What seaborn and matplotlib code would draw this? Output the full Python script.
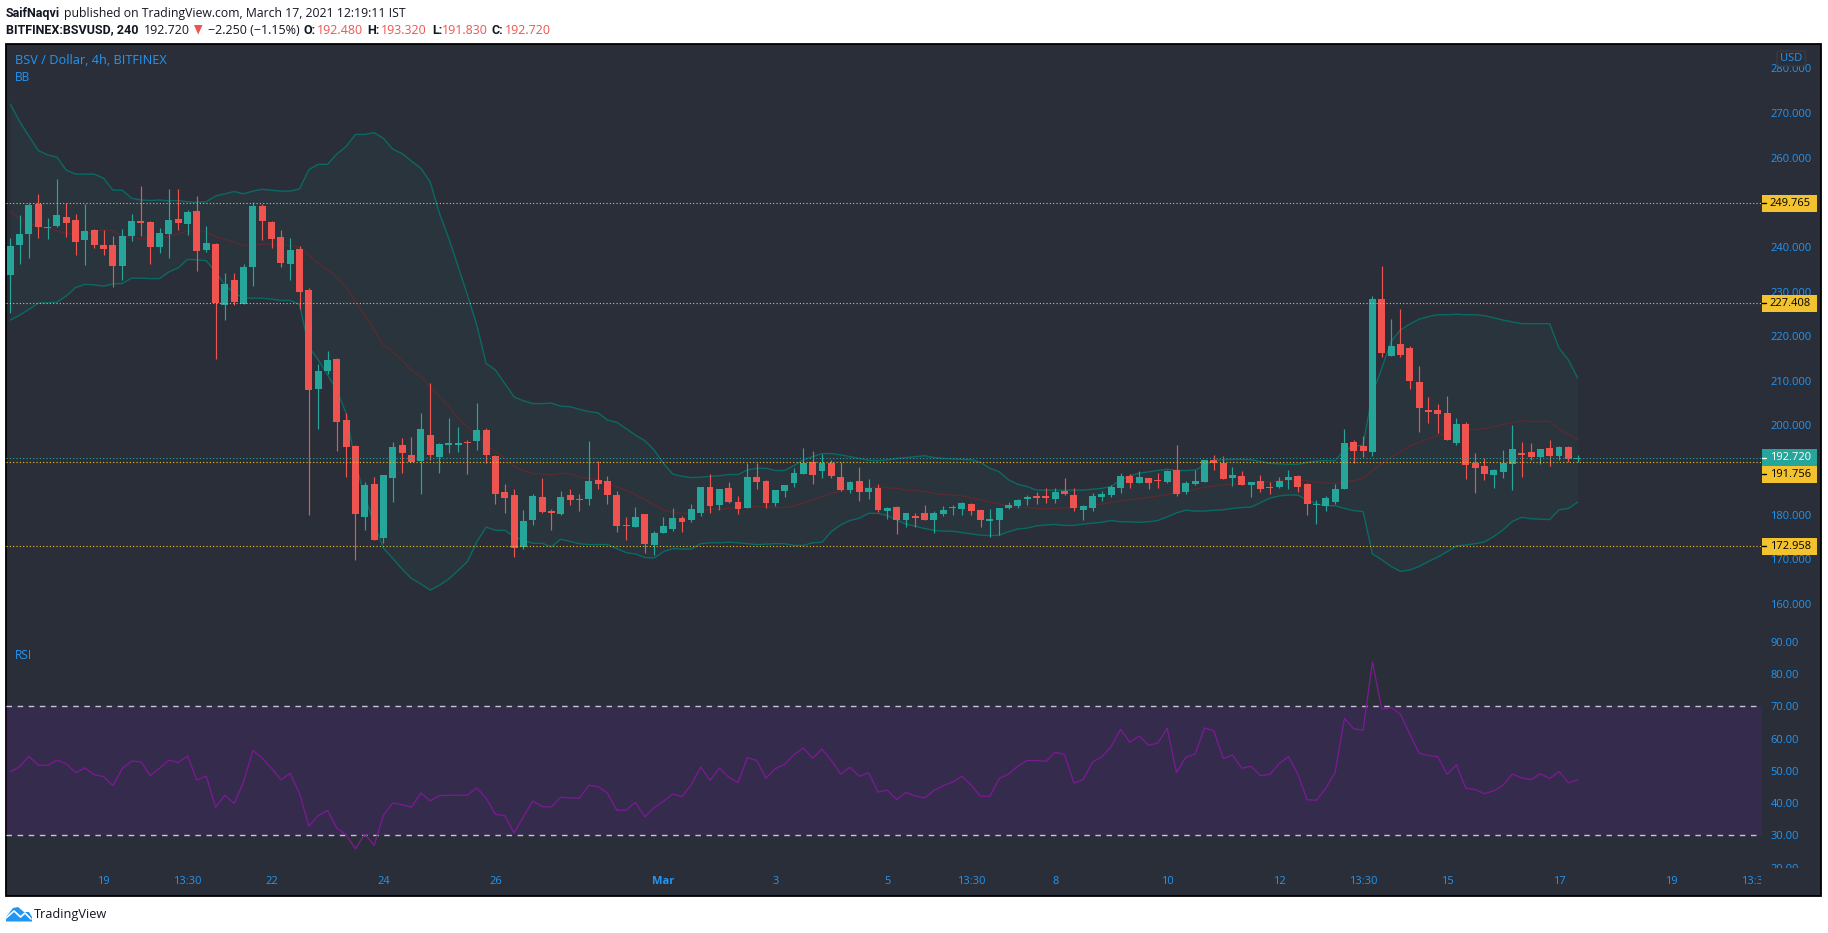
import numpy as np
import pandas as pd
import matplotlib
matplotlib.use('Agg')
import matplotlib.pyplot as plt
import seaborn as sns
from matplotlib.patches import Rectangle, FancyBboxPatch, Polygon
from matplotlib.lines import Line2D
from matplotlib.transforms import Bbox

# --- candle data (4h BSV/USD) ---
opens = [233.7,240.4,242.9,249.7,244.2,244.7,246.7,246.0,241.5,243.8,
         240.4,240.4,235.7,242.4,245.8,245.6,240.0,242.9,246.3,245.1,
         248.0,239.3,240.6,227.0,232.6,227.2,235.5,249.2,245.6,242.2,
         236.2,239.5,230.3,208.2,212.2,214.9,201.2,195.4,179.5,186.9,
         174.8,188.2,195.6,193.4,192.0,197.9,192.9,195.6,195.6,196.3,
         196.5,199.0,193.1,185.1,184.4,172.8,178.8,183.9,180.8,180.2,
         184.4,183.5,183.5,187.8,187.5,184.4,177.7,177.2,180.1,173.2,
         175.9,176.8,179.3,178.8,180.4,186.2,182.2,186.0,182.8,181.5,
         188.4,187.5,182.6,185.3,187.1,189.1,191.8,189.8,191.6,188.4,
         185.5,187.5,185.1,186.0,180.8,181.7,178.8,179.7,180.4,178.8,
         180.1,181.5,181.3,182.4,181.0,178.6,178.8,181.5,181.9,183.5,
         184.2,184.2,183.5,185.3,184.4,181.0,181.5,184.0,184.4,186.0,
         188.7,187.1,188.2,187.8,187.3,190.0,185.1,186.9,187.3,192.3,
         191.6,188.2,188.7,186.7,187.6,186.2,186.2,187.8,188.7,186.9,
         182.2,182.0,182.9,185.8,196.3,195.4,194.1,228.4,215.6,218.3,
         217.4,209.8,203.5,203.5,202.8,196.1,200.3,191.6,190.9,188.9,
         189.6,191.4,193.8,194.1,192.9,194.9,193.2,195.2,192.48]
highs = [242.0,247.1,249.8,251.9,246.5,255.2,249.8,247.4,249.6,244.0,
         243.8,242.4,244.0,247.4,253.6,245.8,244.2,252.9,252.9,248.3,
         251.4,244.7,240.9,234.1,234.1,236.2,250.1,249.6,245.8,243.8,
         242.0,240.2,230.8,213.8,216.7,215.1,202.8,195.6,187.3,188.4,
         188.9,196.3,197.2,197.4,202.8,209.5,196.1,201.7,199.6,196.7,
         205.0,199.4,193.4,186.9,185.8,181.1,184.6,188.2,181.3,185.3,
         185.8,184.6,196.5,192.0,188.7,185.3,179.5,181.7,180.1,176.3,
         179.5,181.5,179.7,182.4,186.2,189.1,185.7,187.3,184.2,191.6,
         191.6,187.8,185.5,186.6,190.5,194.9,194.3,193.6,192.3,191.8,
         187.5,190.7,188.0,186.9,181.7,181.9,180.4,180.4,182.2,180.8,
         181.9,182.2,182.8,182.6,181.1,181.3,181.5,182.8,183.5,184.4,
         185.1,186.0,186.0,188.2,186.0,182.2,184.9,185.3,186.6,189.3,
         189.1,189.8,188.3,189.3,190.0,195.6,187.5,190.0,192.3,193.4,
         193.2,190.7,189.8,187.3,188.9,187.3,188.5,190.0,188.8,187.0,
         183.3,184.2,186.9,199.2,196.8,197.6,229.0,235.7,223.9,226.1,
         217.8,213.3,206.4,204.8,206.6,201.7,200.8,193.8,192.7,190.2,
         194.5,200.1,196.3,196.1,194.8,196.8,195.3,195.3,193.32]
lows = [225.1,236.2,237.6,242.0,241.8,244.5,242.2,238.2,235.9,239.8,
        238.2,231.1,232.6,241.3,242.4,236.2,238.6,237.5,243.8,242.7,
        234.6,238.9,214.9,223.6,227.0,227.2,231.2,241.5,239.8,235.5,
        232.6,226.1,179.9,199.2,211.5,194.3,188.4,169.8,176.6,174.3,
        173.6,182.8,189.3,191.8,184.6,192.2,189.3,193.8,194.0,189.1,
        194.5,191.6,182.4,180.4,170.5,172.3,177.7,180.4,176.6,179.9,
        182.2,180.8,182.2,185.8,182.4,176.1,174.3,177.2,171.4,171.0,
        175.9,176.3,176.1,178.4,179.7,180.4,181.0,182.6,180.1,181.5,
        185.7,181.5,181.9,184.0,186.2,189.1,186.9,188.2,188.2,185.3,
        184.9,183.1,183.5,180.6,179.0,175.7,177.2,177.2,178.8,175.9,
        179.7,179.9,179.9,179.9,177.2,175.0,175.4,181.3,181.5,182.2,
        182.4,182.6,182.6,184.4,180.8,178.8,180.8,183.1,184.0,184.9,
        186.0,187.1,185.7,186.0,187.1,184.2,184.6,186.6,187.3,190.0,
        188.0,186.5,186.7,184.0,185.1,184.6,186.0,185.8,185.1,179.9,
        177.9,180.9,182.4,185.8,191.6,193.0,193.2,215.4,215.6,215.4,
        208.2,198.6,200.6,198.3,196.8,195.6,188.0,184.9,187.8,186.0,
        188.2,185.6,188.5,192.3,191.4,190.9,192.3,191.8,191.83]
closes = [240.2,242.9,249.4,244.5,244.5,247.1,245.3,241.1,243.6,240.4,
          239.5,235.7,242.4,245.8,245.3,240.0,243.1,246.0,245.3,247.8,
          239.1,240.9,227.4,231.7,227.6,235.5,249.2,245.8,241.8,236.4,
          239.3,229.9,207.9,212.2,214.7,200.8,195.2,180.2,186.6,174.3,
          188.9,195.2,193.8,191.8,199.2,193.4,195.8,196.1,196.1,196.1,
          199.0,193.4,184.6,183.7,172.5,178.6,184.2,180.6,180.4,183.9,
          183.3,183.3,187.5,186.9,184.4,177.5,177.4,179.5,173.4,175.9,
          177.4,179.3,178.4,181.3,186.2,181.9,185.7,182.8,181.3,188.4,
          187.3,182.6,185.5,186.6,189.3,191.6,188.9,191.6,188.7,185.5,
          187.3,185.1,186.0,181.0,181.5,178.8,180.4,179.3,178.8,180.4,
          181.0,181.7,182.6,180.8,178.8,179.0,181.5,182.2,183.3,184.0,
          183.7,183.7,185.1,184.6,181.5,181.9,184.2,184.6,186.2,188.7,
          187.1,188.4,187.1,187.5,189.8,184.6,187.1,187.5,192.3,191.6,
          188.0,188.9,186.7,187.3,185.8,186.0,187.6,188.5,186.2,182.4,
          182.4,183.8,185.8,196.1,194.3,194.3,228.4,216.2,217.8,215.8,
          210.0,203.9,203.0,202.6,196.8,200.3,191.2,190.5,189.1,190.0,
          191.6,194.7,193.4,192.9,194.7,193.2,195.2,192.5,192.72]

# --- Bollinger bands ---
bb_upper = [272.0,268.1,264.8,261.6,260.6,260.1,257.2,256.3,256.3,256.3,
            255.4,252.7,252.7,250.9,250.5,250.4,250.5,250.3,250.4,250.1,
            250.0,250.1,251.4,251.9,252.4,251.9,252.5,252.9,252.7,252.5,
            252.5,253.0,257.3,258.5,258.5,260.8,262.5,265.2,265.2,265.6,
            264.3,261.9,260.9,259.2,257.6,254.6,247.5,241.9,235.6,229.2,
            222.5,213.9,212.4,209.4,206.4,205.5,204.9,204.9,205.0,204.3,
            204.2,203.6,203.1,202.8,201.2,200.7,199.3,197.8,196.6,194.5,
            191.5,189.1,188.6,188.3,188.4,188.6,188.7,189.0,189.0,190.0,
            190.4,190.4,189.9,189.9,191.0,192.3,193.0,193.7,193.7,193.4,
            193.0,192.6,192.2,192.1,192.3,192.6,192.8,193.0,193.2,192.8,
            192.6,192.5,192.4,192.3,191.7,190.4,189.6,187.8,186.8,186.3,
            185.5,185.5,185.5,185.5,185.5,185.5,185.7,185.9,186.3,187.8,
            188.7,189.3,189.6,189.9,190.2,189.9,189.9,190.0,191.1,192.2,
            192.3,192.4,192.4,192.3,191.9,191.5,191.4,191.3,191.3,191.7,
            192.0,192.1,192.1,194.5,195.3,195.6,207.2,212.8,218.8,221.4,
            222.7,223.8,224.4,224.8,224.8,224.9,224.8,224.8,224.6,224.1,
            223.6,223.2,222.8,222.8,222.8,222.8,217.3,214.7,210.6]
bb_basis = [247.9,246.4,245.4,244.5,244.2,243.6,243.0,242.9,243.0,243.4,
            243.8,243.6,242.4,242.1,241.8,241.8,241.8,242.4,242.9,243.6,
            243.6,243.4,242.3,241.7,241.0,240.3,240.5,240.6,240.6,240.4,
            240.3,240.0,238.2,236.3,234.8,233.2,230.9,227.7,224.7,221.4,
            218.0,216.5,214.5,212.4,210.9,208.7,206.4,204.2,201.6,199.7,
            197.9,195.6,194.1,192.6,190.8,189.9,189.2,189.2,188.9,189.3,
            189.2,188.5,188.1,187.9,187.0,186.2,185.4,184.5,183.4,182.2,
            181.0,180.6,180.3,180.4,180.9,181.2,181.3,181.4,181.6,181.7,
            181.8,181.8,181.6,181.6,181.9,182.7,183.3,184.0,184.8,185.3,
            185.7,186.0,186.1,186.2,186.0,185.9,185.5,185.4,185.2,184.8,
            184.5,184.4,184.2,183.8,183.4,182.8,182.4,181.9,181.6,181.6,
            181.4,181.3,181.4,181.5,181.6,181.9,182.0,182.4,182.8,183.1,
            183.4,183.6,183.9,184.2,184.5,184.9,185.3,185.7,186.1,186.4,
            186.7,186.8,186.9,187.0,187.2,187.4,187.6,187.8,187.8,187.6,
            187.3,187.1,187.0,187.3,187.6,188.2,189.9,191.5,192.9,194.1,
            195.3,196.2,197.0,197.7,198.4,199.0,199.1,199.1,199.3,199.7,
            200.2,200.6,201.1,200.9,200.9,200.9,199.1,198.0,196.8]
bb_lower = [223.6,224.7,226.0,227.4,227.5,227.6,229.0,230.9,231.6,231.5,
            231.2,231.7,231.8,233.0,233.0,232.9,232.9,234.4,235.3,237.2,
            237.1,236.9,234.4,231.5,229.6,228.6,228.5,228.5,228.3,228.0,
            228.0,227.1,217.6,214.7,211.3,207.9,202.7,191.5,184.0,178.0,
            172.5,170.2,167.8,165.7,164.5,163.1,164.2,165.6,167.5,169.5,
            173.9,177.2,176.5,176.5,175.1,174.2,173.6,173.6,172.8,174.5,
            174.0,173.5,173.3,173.3,173.3,172.4,171.5,171.2,170.4,170.3,
            171.7,172.4,172.3,172.3,173.5,173.7,173.7,173.8,173.7,173.5,
            173.3,173.4,173.5,173.5,173.1,173.1,173.7,173.8,176.2,177.7,
            178.7,179.2,180.3,180.3,179.8,178.8,177.9,177.4,176.9,176.5,
            176.3,176.3,176.0,175.7,175.4,175.3,175.4,176.2,176.8,177.0,
            177.5,177.7,177.8,177.6,177.6,177.9,178.1,178.3,178.7,178.4,
            178.4,178.3,178.4,178.7,179.5,180.4,181.0,180.8,180.8,181.0,
            181.1,181.4,181.6,181.7,182.7,183.7,184.2,184.4,184.4,183.3,
            182.4,182.0,182.0,181.4,180.9,180.7,171.2,169.9,168.4,167.3,
            167.6,168.4,169.5,170.5,171.7,173.0,173.2,173.5,173.9,175.1,
            176.6,178.5,179.4,179.1,179.0,178.9,181.1,181.4,182.8]

# --- RSI ---
rsi = [49.7,51.3,54.5,51.8,51.7,53.3,52.2,49.4,50.9,48.8,
       48.2,45.4,50.7,53.0,52.8,48.5,50.8,53.3,52.6,54.6,
       47.1,48.4,38.7,42.4,39.9,46.5,56.3,53.9,50.8,47.2,
       49.2,43.0,32.9,36.1,37.7,32.2,30.1,25.8,30.4,26.9,
       36.3,40.0,39.5,38.7,43.1,40.7,42.3,42.4,42.4,42.5,
       44.7,41.5,36.5,36.1,30.7,35.8,40.6,38.9,38.8,41.8,
       41.6,41.5,45.5,45.1,43.1,37.8,37.8,40.2,35.7,38.6,
       40.5,42.8,42.0,45.8,51.2,47.0,50.9,48.0,46.3,54.1,
       53.2,47.7,50.7,52.0,55.0,57.1,53.9,56.7,53.2,49.0,
       51.1,48.3,49.4,43.4,44.0,41.1,43.3,42.2,41.6,43.9,
       45.4,46.5,48.3,45.5,42.1,42.1,47.6,49.0,51.5,53.2,
       53.2,52.9,55.8,55.0,46.2,47.3,52.7,54.4,57.5,62.9,
       58.8,60.8,57.9,58.6,63.2,49.5,54.2,55.2,63.3,62.4,
       53.8,54.9,50.8,51.4,48.5,48.9,52.2,54.4,49.0,41.0,
       40.9,44.6,49.5,66.3,63.0,62.6,83.7,69.1,69.6,67.6,
       61.4,55.5,54.7,54.4,48.9,51.9,44.6,44.2,42.9,43.8,
       45.5,49.0,47.8,47.3,49.1,47.6,49.8,46.3,47.2]

# --- axis labels and levels ---
price_ticks = [160,170,180,190,200,210,220,230,240,250,260,270,280]
rsi_ticks = [20,30,40,50,60,70,80,90]
time_pos = [10,19,28,40,52,70,82,94,103,112,124,136,145,154,166,178,187]
time_labels = ['19','13:30','22','24','26','Mar','3','5','13:30','8','10','12','13:30','15','17','19','13:30']
levels = [249.765, 227.408, 191.756, 172.958]
last_price = 192.72
rsi_bands = [30, 70]

W, H = 1828, 933
BG = '#2A2E39'
BLUE = '#2196F3'
UP = '#26A69A'
DOWN = '#EF5350'
GOLD = '#F3C22F'
BOLD_FONT = ['Roboto', 'DejaVu Sans']

sns.set_theme(style='dark', rc={'axes.facecolor': 'none', 'figure.facecolor': 'white'})
plt.rcParams['font.family'] = ['Open Sans', 'DejaVu Sans']

df = pd.DataFrame({'idx': np.arange(len(opens)), 'open': opens, 'high': highs, 'low': lows,
                   'close': closes, 'upper': bb_upper, 'basis': bb_basis, 'lower': bb_lower, 'rsi': rsi})
df['color'] = np.where(df['close'] >= df['open'], UP, DOWN)


def fx(px):
    return px / W


def fy(py):
    return 1 - py / H


def pane(x0, y0, x1, y1):
    return fig.add_axes([fx(x0), fy(y1), fx(x1 - x0), (y1 - y0) / H])


fig = plt.figure(figsize=(W / 100, H / 100), dpi=100)
fig.add_artist(Rectangle((fx(6), fy(896)), fx(1821 - 6), (896 - 44) / H, transform=fig.transFigure,
                         facecolor=BG, edgecolor='black', lw=1.3, zorder=-1))

# --- 1. price pane ---
ax = pane(6, 44, 1761.5, 640)
ax.fill_between(df['idx'], df['lower'], df['upper'], color=UP, alpha=0.05, lw=0)
sns.lineplot(data=df, x='idx', y='upper', ax=ax, color='#0A6A63', lw=1.0, errorbar=None)
sns.lineplot(data=df, x='idx', y='lower', ax=ax, color='#0A6A63', lw=1.0, errorbar=None)
sns.lineplot(data=df, x='idx', y='basis', ax=ax, color='#5A2A31', lw=1.0, errorbar=None)

ax.vlines(df['idx'], df['low'], df['high'], colors=df['color'], lw=0.85, zorder=3)
body_bottom = df[['open', 'close']].min(axis=1)
body_height = (df['close'] - df['open']).abs().clip(lower=0.25)
ax.bar(df['idx'], body_height, bottom=body_bottom, width=0.74, color=df['color'], lw=0, zorder=4)

for lv in levels:
    ax.axhline(lv, color=GOLD, lw=0.8, ls=(0, (1, 2)), zorder=5)
ax.axhline(last_price, color=UP, lw=0.8, ls=(0, (1, 2)), zorder=5)

ax.set_xlim(-0.46, 187.7)
ax.set_ylim(151.92, 285.46)
ax.set_xticks([])
ax.set_yticks(price_ticks)
ax.set_yticklabels([f'{t:.3f}' for t in price_ticks])
ax.yaxis.tick_right()
ax.tick_params(axis='y', length=0, pad=6.4, labelsize=8, labelcolor=BLUE)
ax.set_xlabel('')
ax.set_ylabel('')

# --- 2. RSI pane ---
ax2 = pane(6, 640, 1761.5, 868)
ax2.axhspan(rsi_bands[0], rsi_bands[1], color='#9915FF', alpha=0.1, lw=0)
for b in rsi_bands:
    ax2.axhline(b, color='#C9C4CF', lw=1.0, ls=(0, (4, 4)))
sns.lineplot(data=df, x='idx', y='rsi', ax=ax2, color='#7B1A92', lw=0.95, errorbar=None)
ax2.set_xlim(-0.46, 187.7)
ax2.set_ylim(19.86, 90.56)
ax2.set_yticks(rsi_ticks)
ax2.set_yticklabels([f'{t:.2f}' for t in rsi_ticks])
ax2.yaxis.tick_right()
ax2.set_xticks(time_pos)
ax2.set_xticklabels(time_labels)
ax2.tick_params(axis='y', length=0, pad=6.4, labelsize=8, labelcolor=BLUE)
ax2.tick_params(axis='x', length=0, pad=6.0, labelsize=8, labelcolor=BLUE)
ax2.set_xlabel('')
ax2.set_ylabel('')
for lab in ax2.get_xticklabels():
    if lab.get_text() == 'Mar':
        lab.set_fontweight('bold')
    lab.set_clip_box(Bbox([[0, 0], [1761, H]]))
    lab.set_clip_on(True)
for lab in ax2.get_yticklabels():
    lab.set_clip_box(Bbox([[0, H - 868], [W, H]]))
    lab.set_clip_on(True)
for a in (ax, ax2):
    sns.despine(ax=a, left=True, right=True, top=True, bottom=True)

# --- 3. price labels on the right ---
def price_px(p):
    return H - ax.transData.transform((0, p))[1]


def price_box(value, face, txt, shift=0):
    line_y = price_px(value)
    yc = line_y + shift
    fig.add_artist(Rectangle((fx(1761.5), fy(yc + 8.5)), fx(55), 17 / H, transform=fig.transFigure,
                             facecolor=face, edgecolor='none', zorder=6))
    fig.add_artist(Line2D([fx(1761.5), fx(1766)], [fy(yc), fy(yc)], color=txt, lw=1, zorder=7))
    fig.text(fx(1790.5), fy(yc), f'{value:.3f}', color=txt, fontsize=8, ha='center', va='center', zorder=7)


for lv in levels:
    price_box(lv, GOLD, 'black', shift=12 if lv == 191.756 else 0)
price_box(last_price, UP, 'white')

fig.add_artist(FancyBboxPatch((fx(1777), fy(66)), fx(28.5), 15 / H, transform=fig.transFigure,
                              boxstyle='round,pad=0,rounding_size=0.002', facecolor=BG,
                              edgecolor='#363A45', lw=1, zorder=6))
fig.text(fx(1791), fy(58.5), 'USD', color=BLUE, fontsize=8, ha='center', va='center', zorder=7)

# --- 4. header and legends ---
fig.text(fx(15), fy(60), 'BSV / Dollar, 4h, BITFINEX', color=BLUE, fontsize=9.2, va='center')
fig.text(fx(15), fy(77.5), 'BB', color=BLUE, fontsize=8.6, va='center')
fig.text(fx(15), fy(655.5), 'RSI', color=BLUE, fontsize=8.6, va='center')

TXT = '#131722'
fig.text(fx(6), fy(13), 'SaifNaqvi', color=TXT, fontsize=9, family=BOLD_FONT, fontweight='bold', va='center')
fig.text(fx(64), fy(13), 'published on TradingView.com, March 17, 2021 12:19:11 IST', color=TXT, fontsize=8.8, va='center')
fig.text(fx(6), fy(30), 'BITFINEX:BSVUSD, 240', color=TXT, fontsize=9, family=BOLD_FONT, fontweight='bold', va='center')
fig.text(fx(144), fy(30), '192.720', color=TXT, fontsize=9, va='center')
fig.add_artist(Polygon([[fx(194), fy(25)], [fx(202.5), fy(25)], [fx(198.2), fy(34.5)]], closed=True,
                       transform=fig.transFigure, facecolor=DOWN, edgecolor='none'))
fig.text(fx(207.5), fy(30), '\u22122.250 (\u22121.15%)', color=TXT, fontsize=9, va='center')
for lx, lab, vx, val in [(303, 'O:', 317, '192.480'), (367, 'H:', 381, '193.320'),
                         (432, 'L:', 442, '191.830'), (492, 'C:', 504.5, '192.720')]:
    fig.text(fx(lx), fy(30), lab, color=TXT, fontsize=9, family=BOLD_FONT, fontweight='bold', va='center')
    fig.text(fx(vx), fy(30), val, color=DOWN, fontsize=9, va='center')

# --- 5. logo ---
fig.add_artist(Polygon([[fx(6), fy(921.5)], [fx(6), fy(917)], [fx(13), fy(908)], [fx(18), fy(907)],
                        [fx(24), fy(912)], [fx(29), fy(912)], [fx(32), fy(917)], [fx(32), fy(921.5)]],
                       closed=True, transform=fig.transFigure, facecolor=BLUE, edgecolor='none'))
fig.add_artist(Line2D([fx(6), fx(14), fx(20.5), fx(25), fx(31)], [fy(918), fy(911), fy(917), fy(913), fy(919)],
                      color='white', lw=1.2))
fig.text(fx(34), fy(914.5), 'TradingView', color=TXT, fontsize=9.2, va='center')

fig.savefig('out.png', dpi=100)
